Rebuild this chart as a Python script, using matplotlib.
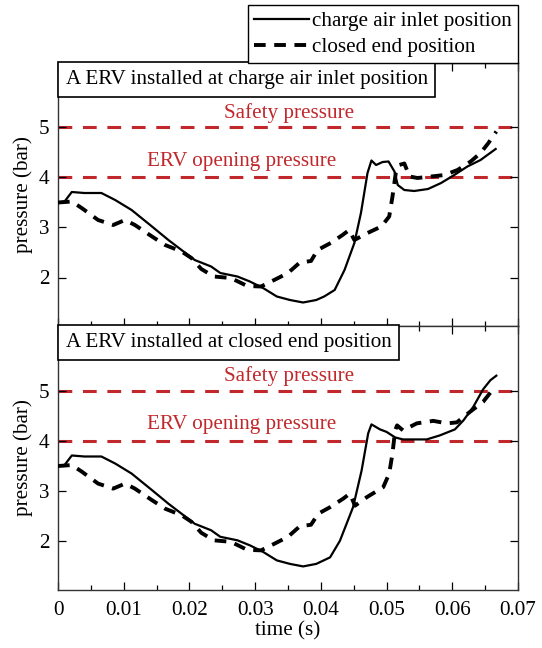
import matplotlib
matplotlib.use("Agg")
import matplotlib.pyplot as plt
from matplotlib.ticker import MultipleLocator

FS = 15.2
plt.rcParams['font.family'] = ['Liberation Serif', 'DejaVu Serif']
plt.rcParams['font.size'] = FS

# ---- data ----
# Panel 1: ERV at charge air inlet position
t_inlet_top = [0, 0.0010, 0.0021, 0.0040, 0.0066, 0.0087, 0.0112, 0.0143, 0.0168, 0.0188, 0.0208,
               0.0233, 0.0247, 0.0273, 0.0292, 0.0312, 0.0333, 0.0353, 0.0373, 0.0393, 0.0405,
               0.0421, 0.0436, 0.0451, 0.0461, 0.0471, 0.0477, 0.0484, 0.0494, 0.0503, 0.0512,
               0.0517, 0.0527, 0.0542, 0.0563, 0.0583, 0.0603, 0.0623, 0.0643, 0.0666]
p_inlet_top = [3.50, 3.52, 3.71, 3.69, 3.69, 3.55, 3.35, 3.02, 2.75, 2.55, 2.35,
               2.22, 2.09, 2.02, 1.92, 1.79, 1.62, 1.55, 1.50, 1.55, 1.62,
               1.75, 2.15, 2.69, 3.29, 4.09, 4.34, 4.25, 4.31, 4.32, 4.12,
               3.85, 3.75, 3.73, 3.77, 3.89, 4.05, 4.22, 4.35, 4.57]

t_closed_top = [0, 0.0021, 0.0036, 0.0061, 0.0084, 0.0102, 0.0117, 0.0143, 0.0163, 0.0188, 0.0203,
                0.0218, 0.0237, 0.0263, 0.0288, 0.0309, 0.0329, 0.0350, 0.0368, 0.0385, 0.0395,
                0.0415, 0.0433, 0.0443, 0.0451, 0.0471, 0.0492, 0.0504, 0.0509, 0.0514, 0.0519,
                0.0527, 0.0535, 0.0547, 0.0568, 0.0588, 0.0608, 0.0628, 0.0643, 0.0655, 0.0667]
p_closed_top = [3.50, 3.52, 3.39, 3.15, 3.05, 3.15, 3.05, 2.82, 2.65, 2.52, 2.39,
                2.17, 2.02, 1.99, 1.83, 1.82, 1.95, 2.09, 2.30, 2.33, 2.55,
                2.69, 2.85, 2.95, 2.75, 2.89, 3.02, 3.22, 3.62, 4.09, 4.25,
                4.28, 4.02, 3.99, 4.02, 4.05, 4.15, 4.32, 4.49, 4.69, 4.92]

# Panel 2: ERV at closed end position
t_inlet_bot = [0, 0.0010, 0.0021, 0.0040, 0.0066, 0.0087, 0.0112, 0.0143, 0.0168, 0.0188, 0.0208,
               0.0233, 0.0247, 0.0273, 0.0292, 0.0312, 0.0333, 0.0353, 0.0373, 0.0393, 0.0414,
               0.0429, 0.0449, 0.0462, 0.0472, 0.0477, 0.0490, 0.0500, 0.0513, 0.0525, 0.0561,
               0.0581, 0.0604, 0.0617, 0.0632, 0.0647, 0.0658, 0.0667]
p_inlet_bot = [3.50, 3.52, 3.71, 3.69, 3.69, 3.55, 3.35, 3.02, 2.75, 2.55, 2.35,
               2.22, 2.09, 2.02, 1.92, 1.79, 1.62, 1.55, 1.50, 1.55, 1.68,
               2.01, 2.68, 3.41, 4.15, 4.33, 4.23, 4.18, 4.07, 4.03, 4.03,
               4.11, 4.23, 4.41, 4.68, 5.03, 5.21, 5.30]

t_closed_bot = [0, 0.0021, 0.0036, 0.0061, 0.0084, 0.0102, 0.0117, 0.0143, 0.0163, 0.0188, 0.0203,
                0.0218, 0.0237, 0.0263, 0.0288, 0.0309, 0.0329, 0.0350, 0.0368, 0.0385, 0.0396,
                0.0414, 0.0434, 0.0444, 0.0452, 0.0470, 0.0495, 0.0504, 0.0509, 0.0513, 0.0516,
                0.0525, 0.0546, 0.0571, 0.0592, 0.0607, 0.0627, 0.0647, 0.0665]
p_closed_bot = [3.50, 3.52, 3.39, 3.15, 3.05, 3.15, 3.05, 2.82, 2.65, 2.52, 2.39,
                2.17, 2.02, 1.99, 1.83, 1.82, 1.95, 2.09, 2.30, 2.33, 2.55,
                2.68, 2.85, 2.95, 2.71, 2.88, 3.08, 3.35, 3.75, 4.21, 4.31,
                4.21, 4.35, 4.40, 4.35, 4.37, 4.58, 4.78, 5.08]

series_labels = ["charge air inlet position", "closed end position"]
panel_titles = ["A ERV installed at charge air inlet position",
                "A ERV installed at closed end position"]
safety_pressure = 5
opening_pressure = 4
ref_labels = ["Safety pressure", "ERV opening pressure"]

RED = '#C0282C'

fig = plt.figure(figsize=(5.42, 6.48), dpi=100)
L, R = 58/542, 518/542
ax1 = fig.add_axes([L, 1-326/648, R-L, (326-63)/648])
ax2 = fig.add_axes([L, 1-590/648, R-L, (590-326)/648])

panels = [(ax1, t_inlet_top, p_inlet_top, t_closed_top, p_closed_top),
          (ax2, t_inlet_bot, p_inlet_bot, t_closed_bot, p_closed_bot)]

for i, (ax, ts, ps, tc, pc) in enumerate(panels):
    ax.axhline(safety_pressure, color=RED, lw=2.2, linestyle=(0, (4.5, 3.5)), zorder=1)
    ax.axhline(opening_pressure, color=RED, lw=2.2, linestyle=(0, (4.5, 3.5)), zorder=1)
    l1, = ax.plot(ts, ps, color='black', lw=1.6, label=series_labels[0], zorder=3)
    l2, = ax.plot(tc, pc, color='black', lw=2.8, linestyle=(0, (3, 2.2)), label=series_labels[1], zorder=3)
    ax.text(0.0351, 5.29, ref_labels[0], color=RED, ha='center', va='center', fontsize=FS)
    ax.text(0.0279, 4.32, ref_labels[1], color=RED, ha='center', va='center', fontsize=FS)
    ax.set_xlim(0, 0.07)
    ax.set_ylim(1.03, 6.29)
    ax.set_yticks([2, 3, 4, 5])
    ax.xaxis.set_major_locator(MultipleLocator(0.01))
    ax.xaxis.set_minor_locator(MultipleLocator(0.005))
    ax.tick_params(which='both', direction='in', top=True, right=True, labelsize=FS)
    ax.tick_params(which='major', length=6, width=0.9)
    ax.tick_params(which='minor', length=3.5, width=0.9)
    ax.tick_params(axis='y', pad=6)
    ax.set_ylabel("pressure (bar)", fontsize=FS, labelpad=4)
    for s in ax.spines.values():
        s.set_linewidth(1.0)
        s.set_color('#333333')
    ax.annotate(panel_titles[i], xy=(0, 1), xycoords='axes fraction',
                xytext=(7.5, -7), textcoords='offset pixels', ha='left', va='top',
                fontsize=FS, zorder=5,
                bbox=dict(boxstyle='square,pad=0.36', fc='white', ec='black', lw=1.2))

ax1.tick_params(axis='x', labelbottom=False)
ax2.set_xticks([0, 0.01, 0.02, 0.03, 0.04, 0.05, 0.06, 0.07])
ax2.set_xticklabels(['0', '0.01', '0.02', '0.03', '0.04', '0.05', '0.06', '0.07'])
ax2.tick_params(axis='x', pad=8)
ax2.set_xlabel("time (s)", fontsize=FS, labelpad=1)

ax1.legend(handles=[l1, l2], loc='lower right', bbox_to_anchor=(1.0, 1.0), borderaxespad=0,
           frameon=True, fancybox=False, edgecolor='black', framealpha=1,
           handlelength=2.6, handletextpad=0.15, borderpad=0.28, labelspacing=0.3,
           fontsize=FS).get_frame().set_linewidth(1.0)

fig.savefig("out.png", dpi=100)
